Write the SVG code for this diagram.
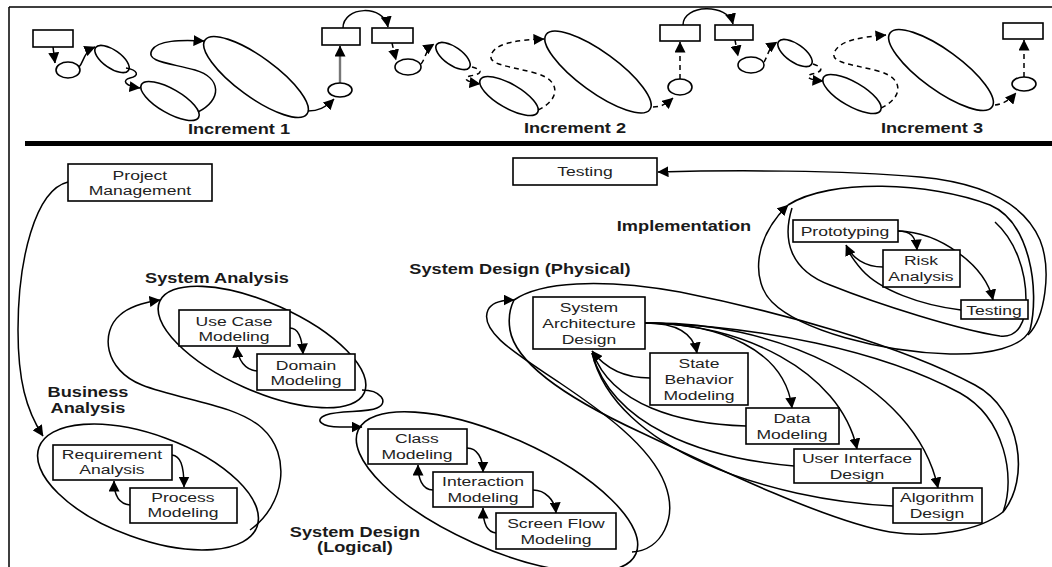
<svg xmlns="http://www.w3.org/2000/svg" width="1052" height="567" viewBox="0 0 1052 567">
<style>
.n rect,.n ellipse{fill:#fff;stroke:#000;stroke-width:1.6}
.lp{fill:none;stroke:#000;stroke-width:1.6}
.c path{fill:none;stroke:#000;stroke-width:1.5}
.c .d{stroke-dasharray:5 4}
.c .g{stroke:#777;stroke-width:2.4}
.a{marker-end:url(#ah)}
text{font-family:"Liberation Sans",Arial,Helvetica,sans-serif;font-size:13.5px;fill:#222;text-anchor:middle;transform-box:fill-box;transform-origin:center;transform:scaleX(1.3)}
.h{font-weight:bold;font-size:14px;fill:#1a1a1a}
</style>
<defs>
<marker id="ah" viewBox="0 0 11 11" refX="10.5" refY="5.5" markerWidth="11" markerHeight="11" markerUnits="userSpaceOnUse" orient="auto"><path d="M0,0 L11,5.5 L0,11 z" fill="#000"/></marker>
</defs>
<rect width="1052" height="567" fill="#fff"/>
<g id="frame">
<path d="M9,7 H1052 M9,7 V567" fill="none" stroke="#000" stroke-width="1.5"/>
<rect x="25" y="141" width="1027" height="5" fill="#000"/>
</g>

<!-- loops (phases) -->
<g id="phase-loops" class="lp">
<ellipse id="loop-ba" cx="148" cy="487" rx="116" ry="52" transform="rotate(20 148 487)"/>
<ellipse id="loop-sa" cx="262" cy="347" rx="112" ry="44" transform="rotate(24 262 347)"/>
<ellipse id="loop-sdl" cx="497" cy="492" rx="152" ry="56" transform="rotate(24 497 492)"/>
<path id="loop-sdp" d="M514,300 C540,282 600,278 680,292 C780,312 900,345 975,385 C1022,410 1030,480 1003,512 C978,532 930,538 890,532 C830,522 720,470 640,432 C560,395 515,360 510,330 C508,318 510,308 514,300 Z"/>
<path id="loop-impl" d="M788,205 C830,178 930,182 990,205 C1030,222 1040,290 1030,330"/>
<ellipse cx="112" cy="59" rx="20" ry="9" transform="rotate(35 112 59)"/>
<ellipse cx="170" cy="101" rx="33" ry="12" transform="rotate(30 170 101)"/>
<ellipse cx="256" cy="77" rx="63" ry="20" transform="rotate(36 256 77)"/>
<ellipse cx="453" cy="56" rx="20" ry="9" transform="rotate(35 453 56)"/>
<ellipse cx="509" cy="96" rx="33" ry="12" transform="rotate(30 509 96)"/>
<ellipse cx="598" cy="72" rx="64" ry="20" transform="rotate(36 598 72)"/>
<ellipse cx="795" cy="53" rx="20" ry="9" transform="rotate(35 795 53)"/>
<ellipse cx="852" cy="94" rx="33" ry="12" transform="rotate(30 852 94)"/>
<ellipse cx="941" cy="70" rx="63" ry="20" transform="rotate(36 941 70)"/>
</g>

<g id="connectors" class="c">
<!-- increment 1 -->
<path class="a" d="M53,47 L55,63"/>
<path class="a" d="M79,67 C84,62 83,52 95,47"/>
<path class="a" d="M126,68 C138,70 140,76 130,78 C122,80 124,86 140,88"/>
<path class="a" d="M198,112 C222,100 222,78 195,70 C170,63 145,62 152,50 C158,40 180,40 204,41"/>
<path class="a" d="M308,111 C318,111 325,108 334,99"/>
<path class="g" d="M340,83 L340,52"/>
<path class="a" d="M340,54 L340,46" stroke-width="0.1"/>
<path class="a" d="M343,28 C343,6 384,4 388,27"/>
<!-- increment 2 -->
<path class="d a" d="M392,43 L396,60"/>
<path class="d a" d="M421,64 C426,58 425,50 434,44"/>
<path class="d a" d="M472,67 C484,70 482,74 470,76 C462,78 466,82 480,84"/>
<path class="d a" d="M538,110 C560,100 562,80 535,73 C510,66 485,65 492,53 C498,42 520,40 544,39"/>
<path class="d a" d="M653,107 C660,107 665,105 673,98"/>
<path class="d a" d="M680,79 L680,42"/>
<path class="a" d="M683,25 C683,4 728,3 733,24"/>
<!-- increment 3 -->
<path class="d a" d="M735,40 L738,56"/>
<path class="d a" d="M764,62 C768,56 768,48 777,42"/>
<path class="d a" d="M813,64 C825,68 822,72 812,74 C804,76 808,80 823,81"/>
<path class="d a" d="M881,108 C903,98 905,78 878,71 C852,64 828,63 835,51 C841,40 862,37 886,35"/>
<path class="d a" d="M995,105 C1003,104 1010,100 1016,93"/>
<path class="d a" d="M1024,77 L1024,40"/>

<!-- phase flow -->
<path id="e-pm-ba" class="a" d="M68,182 C35,190 18,260 18,330 C18,380 26,410 43,436"/>
<path id="e-ba-sa" class="a" d="M250,530 C285,505 292,455 262,428 C235,404 180,400 142,385 C104,370 100,332 120,315 C130,306 146,302 160,300"/>
<path id="e-sa-sdl" class="a" d="M362,390 C380,390 390,402 377,408 C366,413 340,410 326,415 C313,420 322,427 340,427 L362,427"/>
<path id="e-sdl-sdp" class="a" d="M632,552 C662,550 678,518 665,484 C650,445 600,410 560,383 C520,356 478,332 488,310 C492,302 503,300 514,300"/>
<path id="e-sdp-impl" class="a" d="M1030,330 C1022,347 990,355 950,354 C880,352 800,330 772,302 C752,282 752,240 788,205"/>
<path id="e-impl-inner" d="M792,208 C782,240 790,270 830,285 C880,305 960,330 1000,336 C1018,338 1026,322 1026,300 C1026,270 1015,240 995,222"/>
<path id="e-impl-test" class="a" d="M1028,335 C1045,318 1052,270 1040,240 C1025,205 985,183 920,177 C840,170 730,170 658,172"/>

<!-- inner arrows -->
<path class="a" d="M172,455 C180,456 184,464 184,487"/>
<path class="a" d="M130,505 C120,504 114,496 114,481"/>
<path class="a" d="M290,328 C298,328 302,336 303,354"/>
<path class="a" d="M257,371 C245,370 238,360 237,347"/>
<path class="a" d="M467,448 C477,448 483,458 483,472"/>
<path class="a" d="M433,490 C422,490 418,478 418,465"/>
<path class="a" d="M533,490 C545,490 555,500 556,513"/>
<path class="a" d="M496,533 C486,532 483,520 483,508"/>
<path class="a" d="M645,323 C672,323 693,330 697,353"/>
<path class="a" d="M645,323 C720,323 785,350 792,408"/>
<path class="a" d="M645,323 C740,323 840,370 857,449"/>
<path class="a" d="M645,323 C770,320 915,380 938,488"/>
<path d="M645,323 C760,326 880,350 960,393 C1005,418 1016,478 1003,512"/>
<path class="a" d="M650,378 C625,378 605,368 592,351"/>
<path d="M746,426 C680,424 612,405 593,353"/>
<path d="M794,466 C700,458 612,425 592,353"/>
<path d="M893,506 C770,500 615,450 592,353"/>
<path class="a" d="M898,231 C910,231 916,236 917,250"/>
<path class="a" d="M898,231 C940,232 985,265 993,300"/>
<path class="a" d="M883,267 C865,267 852,258 846,245"/>
<path d="M961,310 C920,305 880,290 862,270 C855,262 850,255 847,248"/>
</g>

<!-- top strip nodes -->
<g id="inc1" class="n">
<rect x="33" y="30" width="40" height="17"/>
<ellipse cx="68" cy="70" rx="12" ry="8"/>
<ellipse cx="340" cy="90" rx="12" ry="7"/>
<rect x="322" y="28" width="38" height="17"/>
<text class="h" x="239" y="134">Increment 1</text>
</g>
<g id="inc2" class="n">
<rect x="372" y="28" width="41" height="15"/>
<ellipse cx="408" cy="67" rx="13" ry="8"/>
<ellipse cx="680" cy="87" rx="12" ry="8"/>
<rect x="660" y="25" width="40" height="16"/>
<text class="h" x="575" y="133">Increment 2</text>
</g>
<g id="inc3" class="n">
<rect x="715" y="25" width="38" height="15"/>
<ellipse cx="751" cy="65" rx="13" ry="8"/>
<ellipse cx="1024" cy="84" rx="12" ry="7"/>
<rect x="1003" y="23" width="40" height="16"/>
<text class="h" x="932" y="133">Increment 3</text>
</g>

<!-- bottom nodes -->
<g id="project-management" class="n">
<rect x="68" y="164" width="144" height="37"/>
<text x="140" y="180">Project</text><text x="140" y="195">Management</text>
</g>
<g id="business-analysis" class="n">
<text class="h" x="88" y="397">Business</text><text class="h" x="88" y="413">Analysis</text>
</g>
<g id="requirement-analysis" class="n">
<rect x="53" y="445" width="119" height="35"/>
<text x="112" y="459">Requirement</text><text x="112" y="474">Analysis</text>
</g>
<g id="process-modeling" class="n">
<rect x="130" y="488" width="107" height="35"/>
<text x="183" y="502">Process</text><text x="183" y="517">Modeling</text>
</g>
<g id="system-analysis" class="n">
<text class="h" x="217" y="283">System Analysis</text>
</g>
<g id="use-case-modeling" class="n">
<rect x="179" y="310" width="111" height="36"/>
<text x="234" y="326">Use Case</text><text x="234" y="341">Modeling</text>
</g>
<g id="domain-modeling" class="n">
<rect x="257" y="354" width="98" height="36"/>
<text x="306" y="370">Domain</text><text x="306" y="385">Modeling</text>
</g>
<g id="system-design-logical" class="n">
<text class="h" x="355" y="537">System Design</text><text class="h" x="355" y="552">(Logical)</text>
</g>
<g id="class-modeling" class="n">
<rect x="368" y="429" width="99" height="35"/>
<text x="417" y="443">Class</text><text x="417" y="459">Modeling</text>
</g>
<g id="interaction-modeling" class="n">
<rect x="433" y="472" width="100" height="35"/>
<text x="483" y="486">Interaction</text><text x="483" y="502">Modeling</text>
</g>
<g id="screen-flow-modeling" class="n">
<rect x="496" y="513" width="120" height="36"/>
<text x="556" y="528">Screen Flow</text><text x="556" y="544">Modeling</text>
</g>
<g id="system-design-physical" class="n">
<text class="h" x="520" y="274">System Design (Physical)</text>
</g>
<g id="system-architecture-design" class="n">
<rect x="533" y="297" width="112" height="52"/>
<text x="589" y="312">System</text><text x="589" y="328">Architecture</text><text x="589" y="344">Design</text>
</g>
<g id="state-behavior-modeling" class="n">
<rect x="650" y="353" width="98" height="52"/>
<text x="699" y="368">State</text><text x="699" y="384">Behavior</text><text x="699" y="400">Modeling</text>
</g>
<g id="data-modeling" class="n">
<rect x="746" y="408" width="93" height="36"/>
<text x="792" y="423">Data</text><text x="792" y="439">Modeling</text>
</g>
<g id="user-interface-design" class="n">
<rect x="794" y="449" width="127" height="34"/>
<text x="857" y="463">User Interface</text><text x="857" y="479">Design</text>
</g>
<g id="algorithm-design" class="n">
<rect x="893" y="488" width="89" height="35"/>
<text x="937" y="502">Algorithm</text><text x="937" y="518">Design</text>
</g>
<g id="implementation" class="n">
<text class="h" x="684" y="231">Implementation</text>
</g>
<g id="prototyping" class="n">
<rect x="793" y="220" width="105" height="22"/>
<text x="845" y="236">Prototyping</text>
</g>
<g id="risk-analysis" class="n">
<rect x="883" y="250" width="77" height="37"/>
<text x="921" y="265">Risk</text><text x="921" y="281">Analysis</text>
</g>
<g id="testing-inner" class="n">
<rect x="961" y="300" width="67" height="19"/>
<text x="994" y="315">Testing</text>
</g>
<g id="testing" class="n">
<rect x="513" y="158" width="144" height="27"/>
<text x="585" y="176">Testing</text>
</g>
</svg>
